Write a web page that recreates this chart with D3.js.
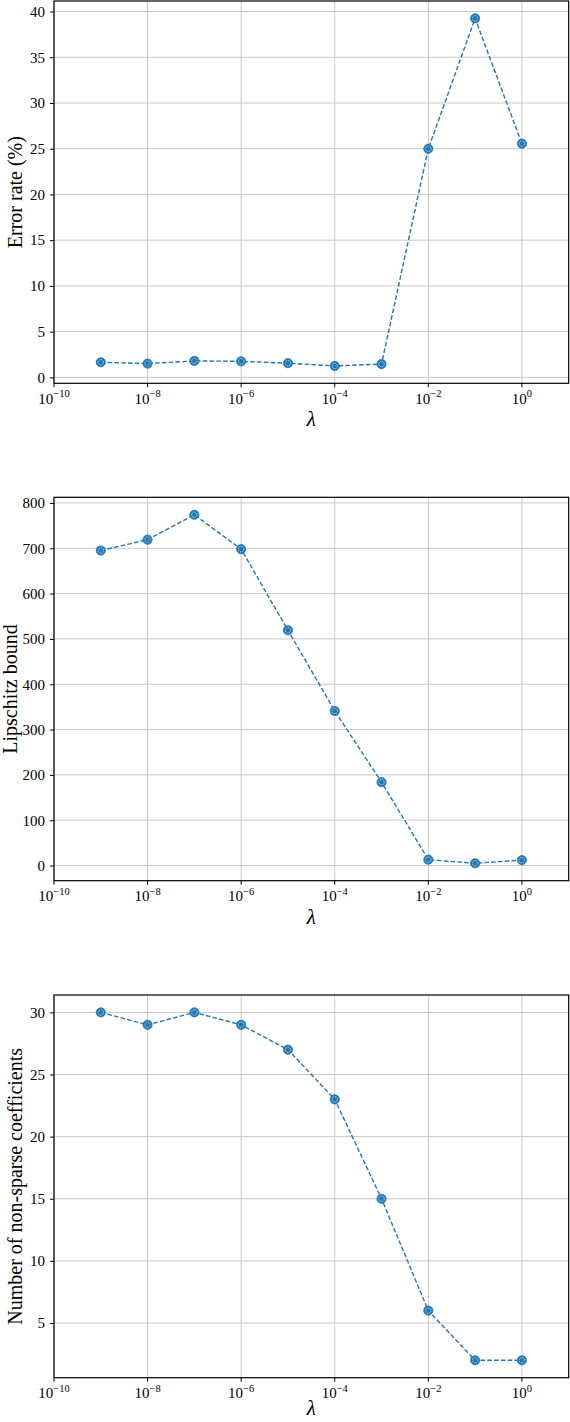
<!DOCTYPE html>
<html>
<head>
<meta charset="utf-8">
<script src="https://cdn.jsdelivr.net/npm/d3@7"></script>
<style>
  html, body { margin: 0; padding: 0; background: #fff; }
  svg { display: block; }
  text { font-family: "Liberation Serif", "DejaVu Serif", serif; fill: #000; }
</style>
</head>
<body>
<svg id="chart" width="570" height="1422"></svg>
<script>
// ---- data ----
const lambdas = [1e-9, 1e-8, 1e-7, 1e-6, 1e-5, 1e-4, 1e-3, 1e-2, 1e-1, 1e0];
const errorRate = [1.65, 1.5, 1.8, 1.75, 1.55, 1.25, 1.45, 25.0, 39.25, 25.55];
const lipschitz = [695, 719, 774, 698, 519, 341, 184, 13, 5, 12];
const nonSparse = [30, 29, 30, 29, 27, 23, 15, 6, 2, 2];

const xTickExponents = [-10, -8, -6, -4, -2, 0];
const errorTicks = [0, 5, 10, 15, 20, 25, 30, 35, 40];
const lipschitzTicks = [0, 100, 200, 300, 400, 500, 600, 700, 800];
const nonSparseTicks = [5, 10, 15, 20, 25, 30];

const yLabels = ["Error rate (%)", "Lipschitz bound", "Number of non-sparse coefficients"];
const xLabel = "λ";

// ---- layout ----
const panels = [
  { values: errorRate, ticks: errorTicks, label: yLabels[0], top: 1, bottom: 383.3, labelX: 21.5 },
  { values: lipschitz, ticks: lipschitzTicks, label: yLabels[1], top: 497.3, bottom: 880.7, labelX: 16.5 },
  { values: nonSparse, ticks: nonSparseTicks, label: yLabels[2], top: 995, bottom: 1377.7, labelX: 21.5 }
];
const left = 54, right = 568.7;
const color = "#1f77b4";
const gridColor = "#c8c8c8";

const svg = d3.select("#chart");

const x = d3.scaleLog().domain([1e-10, 1e1]).range([left, right]);

panels.forEach(p => {
  const [lo, hi] = d3.extent(p.values);
  const pad = (hi - lo) * 0.05;
  const y = d3.scaleLinear().domain([lo - pad, hi + pad]).range([p.bottom, p.top]);
  const g = svg.append("g");

  // grid
  g.append("g").selectAll("line.gx").data(xTickExponents).join("line")
    .attr("x1", d => x(Math.pow(10, d))).attr("x2", d => x(Math.pow(10, d)))
    .attr("y1", p.top).attr("y2", p.bottom)
    .attr("stroke", gridColor).attr("stroke-width", 1);
  g.append("g").selectAll("line.gy").data(p.ticks).join("line")
    .attr("x1", left).attr("x2", right)
    .attr("y1", d => y(d)).attr("y2", d => y(d))
    .attr("stroke", gridColor).attr("stroke-width", 1);

  // y axis
  const yAxis = d3.axisLeft(y).tickValues(p.ticks).tickSize(4).tickPadding(5).tickFormat(d3.format("d"));
  const ya = g.append("g").attr("transform", `translate(${left},0)`).call(yAxis);
  ya.select(".domain").remove();
  ya.selectAll(".tick line").attr("stroke", "#000").attr("stroke-width", 1);
  ya.selectAll(".tick text").attr("font-size", 15).attr("font-family", "Liberation Serif, serif").attr("fill", "#000");

  // x axis ticks
  const xa = g.append("g").attr("transform", `translate(0,${p.bottom})`);
  const xt = xa.selectAll("g").data(xTickExponents).join("g")
    .attr("transform", d => `translate(${x(Math.pow(10, d))},0)`);
  xt.append("line").attr("y1", 0).attr("y2", 4).attr("stroke", "#000").attr("stroke-width", 1);
  const txt = xt.append("text").attr("y", 20.5).attr("text-anchor", "middle").attr("font-size", 15);
  txt.append("tspan").text("10");
  txt.append("tspan").attr("dy", -6.5).attr("font-size", 10.5).text(d => (d < 0 ? "−" + (-d) : String(d)));

  // frame
  g.append("rect").attr("x", left).attr("y", p.top).attr("width", right - left).attr("height", p.bottom - p.top)
    .attr("fill", "none").attr("stroke", "#000").attr("stroke-width", 1.2);

  // line
  const line = d3.line().x((d, i) => x(lambdas[i])).y(d => y(d));
  g.append("path").datum(p.values).attr("d", line)
    .attr("fill", "none").attr("stroke", color).attr("stroke-width", 1.4)
    .attr("stroke-dasharray", "4.6,2.2");

  // markers
  const m = g.append("g").selectAll("g").data(p.values).join("g")
    .attr("transform", (d, i) => `translate(${x(lambdas[i])},${y(d)})`);
  m.append("circle").attr("r", 4.6).attr("fill", color).attr("stroke", color).attr("stroke-width", 0.8);
  m.append("circle").attr("r", 2.7).attr("fill", "none").attr("stroke", "#e8f0f8")
    .attr("stroke-width", 0.8).attr("stroke-dasharray", "1.2,0.9");

  // labels
  svg.append("text").attr("transform", `translate(${p.labelX},${(p.top + p.bottom) / 2}) rotate(-90)`)
    .attr("text-anchor", "middle").attr("font-size", 20).text(p.label);
  svg.append("text").attr("x", (left + right) / 2).attr("y", Math.min(p.bottom + 43, 1415))
    .attr("text-anchor", "middle").attr("font-size", 21).attr("font-style", "italic").text(xLabel);
});
</script>
</body>
</html>
